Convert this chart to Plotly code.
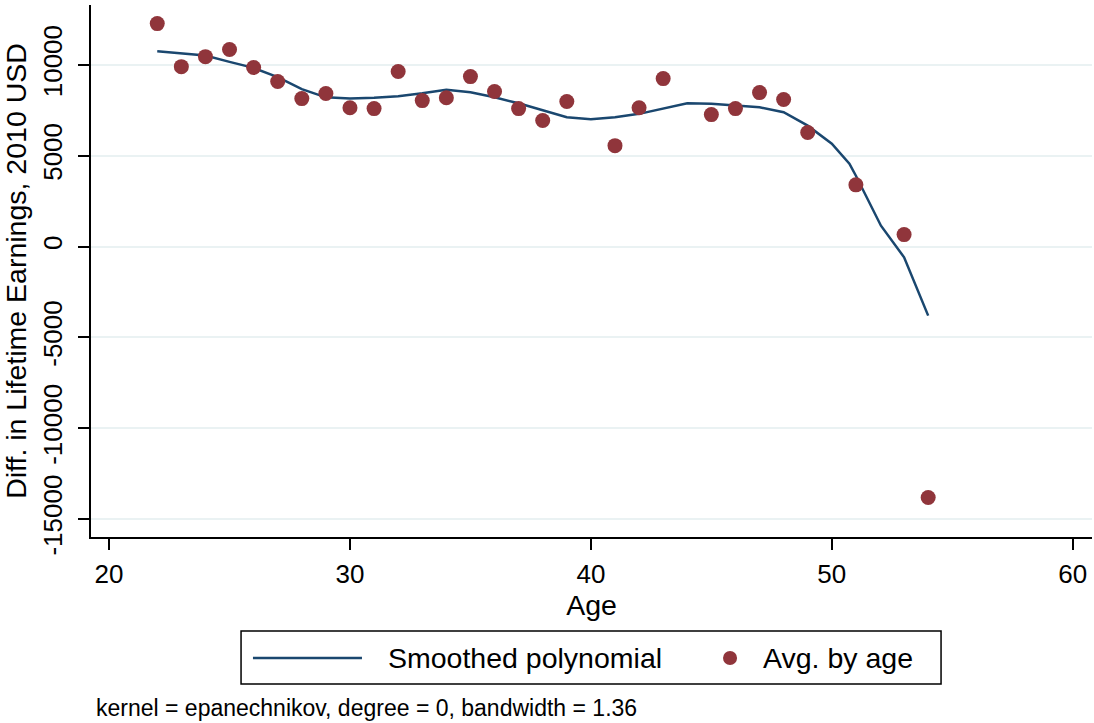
import plotly.graph_objects as go

# Data
ages = [22, 23, 24, 25, 26, 27, 28, 29, 30, 31, 32, 33, 34, 35, 36, 37, 38, 39,
        41, 42, 43, 45, 46, 47, 48, 49, 51, 53, 54]
avg_by_age = [12280, 9910, 10460, 10850, 9860, 9090, 8150, 8430, 7650, 7600, 9640,
              8040, 8200, 9360, 8540, 7600, 6940, 7990,
              5560, 7650, 9250, 7270, 7600, 8480, 8100, 6280, 3400, 660, -13820]

smooth_x = [22, 22.65, 24, 25, 26, 27, 28, 29, 30, 31, 32, 33, 34, 35, 36, 37, 38, 39,
            40, 41, 42, 43, 44, 45, 46, 47, 48, 49, 50, 50.73, 51, 52.04, 53, 54]
smooth_y = [10760, 10690, 10520, 10170, 9840, 9330, 8670, 8220, 8160, 8190, 8280,
            8440, 8640, 8500, 8220, 7890, 7490, 7120, 7010, 7120, 7310, 7600, 7890,
            7860, 7770, 7670, 7400, 6660, 5670, 4570, 3900, 1150, -590, -3800]

y_ticks = [-15000, -10000, -5000, 0, 5000, 10000]
y_tick_labels = ["-15000", "-10000", "-5000", "0", "5000", "10000"]
x_ticks = [20, 30, 40, 50, 60]
x_tick_labels = ["20", "30", "40", "50", "60"]

FONT = "Liberation Sans, Arial, Helvetica, sans-serif"
NAVY = "#1A476F"
MAROON = "#90353B"

fig = go.Figure()
fig.add_trace(go.Scatter(x=smooth_x, y=smooth_y, mode="lines",
                         line=dict(color=NAVY, width=2.5),
                         name="Smoothed polynomial", showlegend=False))
fig.add_trace(go.Scatter(x=ages, y=avg_by_age, mode="markers",
                         marker=dict(color=MAROON, size=15, line=dict(width=0)),
                         name="Avg. by age", showlegend=False))

fig.update_layout(
    width=1094, height=723,
    margin=dict(l=91, r=2, t=5, b=186),
    paper_bgcolor="white", plot_bgcolor="white",
    font=dict(family=FONT, size=26, color="black"),
    xaxis=dict(range=[19.25, 60.8], tickvals=x_ticks, ticktext=x_tick_labels,
               ticks="outside", ticklen=11,
               tickwidth=1.5, tickcolor="black", showline=True, linecolor="black",
               linewidth=1.5, showgrid=False, zeroline=False,
               tickfont=dict(size=26), ticklabelstandoff=2,
               title=dict(text="Age", font=dict(size=28.5), standoff=5)),
    yaxis=dict(range=[-15991, 13304], tickvals=y_ticks, ticktext=y_tick_labels,
               ticks="outside", ticklen=11,
               tickwidth=1.5, tickcolor="black", showline=True, linecolor="black",
               linewidth=1.5, showgrid=True, gridcolor="#EAF2F3", gridwidth=1.5,
               zeroline=False, tickangle=-90, tickfont=dict(size=26),
               ticklabelstandoff=6,
               title=dict(text="Diff. in Lifetime Earnings, 2010 USD",
                          font=dict(size=28.5), standoff=6)),
)

# Legend box (drawn)
fig.add_shape(type="rect", xref="paper", yref="paper",
              x0=0.1499, x1=0.8492, y0=-0.2763, y1=-0.1767,
              line=dict(color="black", width=1.5), fillcolor="white")
fig.add_shape(type="line", xref="paper", yref="paper",
              x0=0.1618, x1=0.2707, y0=-0.2274, y1=-0.2274,
              line=dict(color=NAVY, width=2.5))
fig.add_shape(type="circle", xref="paper", yref="paper",
              x0=0.6314, x1=0.6454, y0=-0.2406, y1=-0.2143,
              line=dict(width=0), fillcolor=MAROON)
fig.add_annotation(text="Smoothed polynomial", xref="paper", yref="paper",
                   x=0.2947, y=-0.2274, xanchor="left", yanchor="middle",
                   showarrow=False, font=dict(size=28.5))
fig.add_annotation(text="Avg. by age", xref="paper", yref="paper",
                   x=0.6693, y=-0.2274, xanchor="left", yanchor="middle",
                   showarrow=False, font=dict(size=28.5))
fig.add_annotation(text="kernel = epanechnikov, degree = 0, bandwidth = 1.36",
                   xref="paper", yref="paper", x=0.003, y=-0.3214,
                   xanchor="left", yanchor="middle", showarrow=False,
                   font=dict(size=23))

fig.write_html("out.html")
